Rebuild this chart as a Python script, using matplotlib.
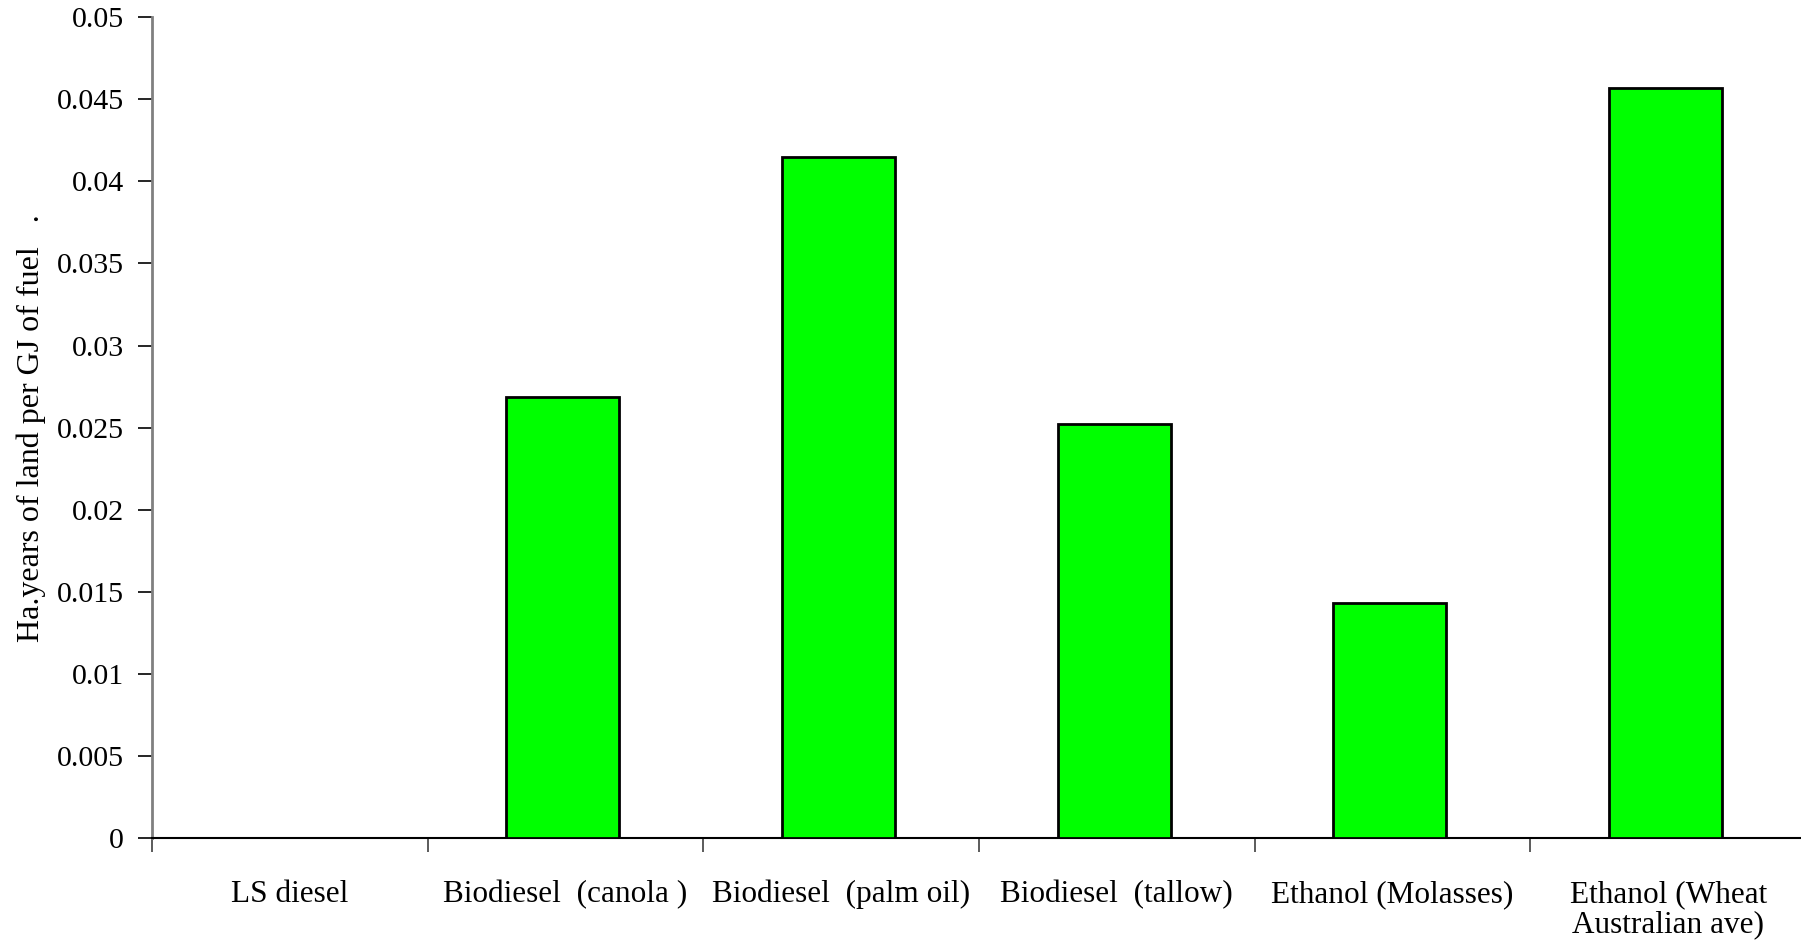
import matplotlib
matplotlib.use("Agg")
import matplotlib.pyplot as plt
import numpy as np

# Land use per unit of fuel energy
fuels = ['LS diesel', 'Biodiesel  (canola )', 'Biodiesel  (palm oil)',
         'Biodiesel  (tallow)', 'Ethanol (Molasses)',
         'Ethanol (Wheat\nAustralian ave)']
land_use = [0.0, 0.02688, 0.0415, 0.02524, 0.01434, 0.04568]
y_ticks = [0, 0.005, 0.01, 0.015, 0.02, 0.025, 0.03, 0.035, 0.04, 0.045, 0.05]
y_tick_labels = ['0', '0.005', '0.01', '0.015', '0.02', '0.025', '0.03',
                 '0.035', '0.04', '0.045', '0.05']

plt.rcParams['font.family'] = ['Liberation Serif', 'DejaVu Serif']

fig = plt.figure(figsize=(18.01, 9.46), dpi=100)
ax = fig.add_axes([152 / 1801, 107.7 / 946, 1654 / 1801, 821.3 / 946])

x = np.arange(len(fuels))
ax.bar(x - 0.01, land_use, width=0.41, color='#00ff00', edgecolor='black',
       linewidth=2, zorder=3)

ax.set_xlim(-0.5, len(fuels) - 0.5)
ax.set_ylim(0, 0.05)

ax.set_yticks(y_ticks)
ax.set_yticklabels(y_tick_labels, fontsize=21.5)
ax.tick_params(axis='y', direction='out', length=10, width=1.2,
               color='black', pad=10)

ax.set_xticks(x)
ax.set_xticklabels(fuels, fontsize=22.5, linespacing=1.05)
ax.tick_params(axis='x', which='major', length=0, pad=30)
ax.set_xticks(np.arange(len(fuels) + 1) - 0.5, minor=True)
ax.tick_params(axis='x', which='minor', direction='out', length=10,
               width=1.2, color='#404040')

ax.spines['top'].set_visible(False)
ax.spines['right'].set_visible(False)
ax.spines['left'].set_color('#808080')
ax.spines['left'].set_linewidth(2)
ax.spines['bottom'].set_color('black')
ax.spines['bottom'].set_linewidth(1.5)

ax.set_ylabel('Ha.years of land per GJ of fuel   .', fontsize=23)
ax.yaxis.set_label_coords(-0.064, 0.5)

fig.savefig('out.png', dpi=100)
